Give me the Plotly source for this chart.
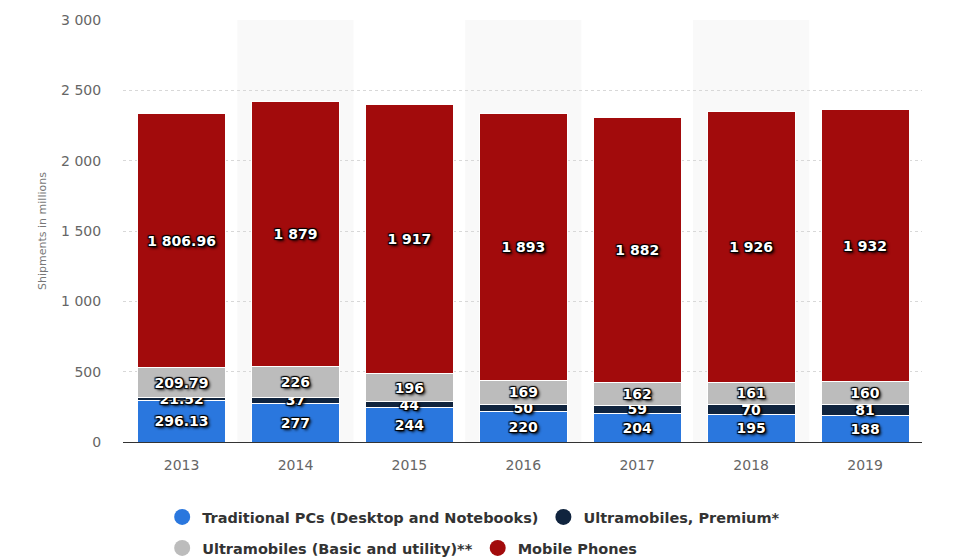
import plotly.graph_objects as go

# Annual device shipments worldwide, in millions
years = ["2013", "2014", "2015", "2016", "2017", "2018", "2019"]
traditional_pcs = [296.13, 277, 244, 220, 204, 195, 188]
ultramobiles_premium = [21.52, 37, 44, 50, 59, 70, 81]
ultramobiles_basic = [209.79, 226, 196, 169, 162, 161, 160]
mobile_phones = [1806.96, 1879, 1917, 1893, 1882, 1926, 1932]

series_names = [
    "Traditional PCs (Desktop and Notebooks)",
    "Ultramobiles, Premium*",
    "Ultramobiles (Basic and utility)**",
    "Mobile Phones",
]
series_values = [traditional_pcs, ultramobiles_premium, ultramobiles_basic, mobile_phones]
series_colors = ["#2a77de", "#10243e", "#bcbcbc", "#a20b0c"]
legend_ids = ["legend", "legend", "legend2", "legend2"]

y_ticks = [0, 500, 1000, 1500, 2000, 2500, 3000]


def fmt(v):
    s = f"{v:,.0f}" if float(v).is_integer() else f"{v:,.2f}"
    return s.replace(",", " ")


FONT = "DejaVu Sans"
label_shadow = ("1px 1px 1px #000, -1px -1px 1px #000, 1px -1px 1px #000, "
                "-1px 1px 1px #000, 2px 2px 3px #000")

fig = go.Figure()
for name, vals, color in zip(series_names, series_values, series_colors):
    fig.add_trace(go.Bar(
        x=years, y=vals, name=name,
        marker=dict(color=color, line=dict(color="white", width=1)),
        text=[fmt(v) for v in vals],
        textposition="inside", insidetextanchor="middle",
        textfont=dict(family=FONT, size=14, color="white", weight="bold",
                      shadow=label_shadow),
        showlegend=False,
        hovertemplate="%{x}: %{y}<extra>" + name + "</extra>",
    ))

# Round legend markers
for name, color, lg in zip(series_names, series_colors, legend_ids):
    fig.add_trace(go.Scatter(
        x=[None], y=[None], mode="markers", name=name, legend=lg,
        marker=dict(symbol="circle", size=16, color=color),
        showlegend=True,
    ))

# Alternating column shading
shapes = []
for i, yr in enumerate(years):
    if i % 2 == 1:
        shapes.append(dict(type="rect", xref="x", yref="paper",
                           x0=i - 0.51, x1=i + 0.51, y0=0, y1=1,
                           fillcolor="#f9f9f9", line=dict(width=0), layer="below"))

legend_style = dict(orientation="h", xanchor="left", yanchor="middle",
                    xref="container", yref="container", traceorder="normal",
                    font=dict(family=FONT, size=14.5, color="#333333", weight="bold"),
                    bgcolor="rgba(0,0,0,0)", itemsizing="trace", itemclick=False)

fig.update_layout(
    width=954, height=559,
    margin=dict(l=123, r=32, t=20, b=117),
    paper_bgcolor="white", plot_bgcolor="white",
    barmode="stack", bargap=0.227,
    font=dict(family=FONT, color="#666666"),
    uniformtext=dict(mode="show", minsize=14),
    shapes=shapes,
    xaxis=dict(
        type="category", range=[-0.514, 6.5],
        showgrid=False, showline=True, linecolor="#333333", linewidth=1,
        ticks="outside", ticklen=10, tickcolor="rgba(0,0,0,0)",
        tickfont=dict(family=FONT, size=14, color="#666666"),
        fixedrange=True,
    ),
    yaxis=dict(
        range=[0, 3000], tickvals=y_ticks,
        ticktext=[fmt(t) for t in y_ticks],
        showgrid=True, gridcolor="#d8d8d8", griddash="dot", gridwidth=1,
        zeroline=False, showline=False,
        ticks="outside", ticklen=18, tickcolor="rgba(0,0,0,0)",
        tickfont=dict(family=FONT, size=14, color="#666666"),
        title=dict(text="Shipments in millions", standoff=12,
                   font=dict(family=FONT, size=11, color="#777777")),
        fixedrange=True,
    ),
    legend=dict(x=0.170, y=0.0751, **legend_style),
    legend2=dict(x=0.170, y=0.0197, **legend_style),
)

fig.write_html("out.html")
